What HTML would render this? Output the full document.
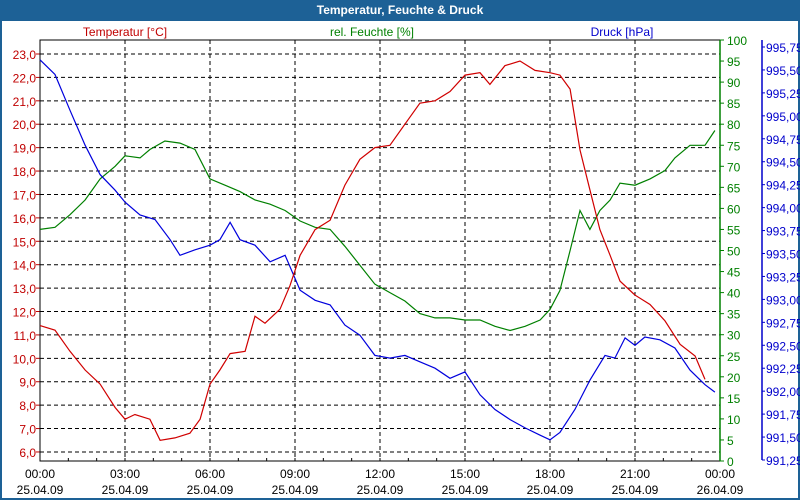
<!DOCTYPE html>
<html><head><meta charset="utf-8"><style>
body{margin:0;background:#fff;}
svg{display:block;font-family:"Liberation Sans",sans-serif;}
</style></head><body>
<svg id="c" width="800" height="500" viewBox="0 0 800 500">
<rect x="0" y="0" width="800" height="500" fill="#1d6196"/>
<rect x="2" y="21" width="796" height="477" fill="#fff"/>
<text x="400" y="14" fill="#fff" font-size="12" font-weight="bold" text-anchor="middle">Temperatur, Feuchte &amp; Druck</text>
<g id="grid"></g>
<g id="axes"></g>
<g id="series"></g>
</svg>
<script>
const tempHours=[0,0.53,1.06,1.59,2.12,2.65,3.0,3.35,3.88,4.24,4.76,5.29,5.65,6.0,6.35,6.71,7.24,7.59,7.94,8.47,8.82,9.18,9.71,10.24,10.76,11.29,11.82,12.35,12.88,13.41,13.94,14.47,15.0,15.53,15.88,16.41,16.94,17.47,18.0,18.35,18.71,19.06,19.41,19.76,20.12,20.47,21.0,21.53,22.06,22.59,23.12,23.47];
const tempValues=[11.4,11.2,10.3,9.5,8.9,7.9,7.4,7.6,7.4,6.5,6.6,6.8,7.4,8.9,9.5,10.2,10.3,11.8,11.5,12.1,13.1,14.4,15.5,15.9,17.4,18.5,19.0,19.1,20.0,20.9,21.0,21.4,22.1,22.2,21.7,22.5,22.7,22.3,22.2,22.1,21.5,18.9,17.2,15.5,14.4,13.3,12.7,12.3,11.6,10.6,10.1,9.1];
const humHours=[0,0.53,1.06,1.59,2.12,2.65,3.0,3.53,3.88,4.41,4.94,5.47,6.0,6.53,7.06,7.59,8.12,8.65,9.18,9.71,10.24,10.76,11.29,11.82,12.35,12.88,13.41,13.94,14.47,15.0,15.53,16.06,16.59,17.12,17.65,18.0,18.35,18.71,19.06,19.41,19.76,20.12,20.47,21.0,21.53,22.06,22.41,22.94,23.47,23.82];
const humValues=[55,55.5,58.5,62,67,70,72.5,72,74,76,75.5,74,67,65.5,64,62,61,59.5,57,55.5,55,51,46.5,42,40,38,35,34,34,33.5,33.5,32,31,32,33.5,36,40.5,50,59.5,55,59.5,62,66,65.5,67,69,72,75,75,78.5];
const presHours=[0,0.53,1.06,1.59,2.12,2.65,3.0,3.53,4.06,4.59,4.94,5.47,6.0,6.35,6.71,7.06,7.59,8.12,8.65,9.18,9.71,10.24,10.76,11.29,11.82,12.35,12.88,13.41,13.94,14.47,15.0,15.53,16.06,16.59,17.12,17.65,18.0,18.35,18.88,19.41,19.94,20.29,20.65,21.0,21.35,21.88,22.41,22.94,23.47,23.82];
const presValues=[995.61,995.45,995.06,994.68,994.36,994.19,994.06,993.92,993.87,993.65,993.48,993.54,993.59,993.65,993.84,993.65,993.59,993.41,993.48,993.10,992.99,992.94,992.72,992.61,992.39,992.36,992.39,992.32,992.25,992.14,992.21,991.96,991.80,991.69,991.60,991.52,991.47,991.55,991.80,992.12,992.39,992.36,992.58,992.50,992.59,992.56,992.47,992.23,992.07,991.99];
const tempTicks=["6,0","7,0","8,0","9,0","10,0","11,0","12,0","13,0","14,0","15,0","16,0","17,0","18,0","19,0","20,0","21,0","22,0","23,0"];
const humTicks=["0","5","10","15","20","25","30","35","40","45","50","55","60","65","70","75","80","85","90","95","100"];
const presTicks=["991,25","991,50","991,75","992,00","992,25","992,50","992,75","993,00","993,25","993,50","993,75","994,00","994,25","994,50","994,75","995,00","995,25","995,50","995,75"];
const timeLabels=["00:00","03:00","06:00","09:00","12:00","15:00","18:00","21:00","00:00"];
const dateLabels=["25.04.09","25.04.09","25.04.09","25.04.09","25.04.09","25.04.09","25.04.09","25.04.09","26.04.09"];

const NS="http://www.w3.org/2000/svg";
const L=40,R=720,T=40,B=461;
const xS=h=>L+h/24*(R-L);
const yT=v=>54+(23-v)*23.41;
const yH=v=>B-v*(B-T)/100;
const yP=v=>460-(v-991.25)*(413/4.5);
function mk(tag,attrs,parent,txt){const e=document.createElementNS(NS,tag);for(const k in attrs)e.setAttribute(k,attrs[k]);if(txt!==undefined)e.textContent=txt;parent.appendChild(e);return e;}
const grid=document.getElementById('grid'),axes=document.getElementById('axes'),ser=document.getElementById('series');
// horizontal grid (temperature)
tempTicks.forEach((t,i)=>{const y=yT(6+i);
 const g=mk('line',{x1:L,x2:R,y1:y,y2:y,stroke:'#000','stroke-dasharray':'4,3','stroke-width':1},grid);
 
 
 const tk=mk('line',{x1:L-4,x2:L,y1:y,y2:y,stroke:'#c00000'},axes);
 
 
 const tx=mk('text',{x:L-4,y:y+5,'text-anchor':'end','font-size':12,fill:'#c00000'},axes,t);
 
 
});
// vertical grid + x labels
timeLabels.forEach((t,i)=>{const x=xS(i*3);
 if(i>0&&i<8){const g=mk('line',{x1:x,x2:x,y1:T,y2:B,stroke:'#000','stroke-dasharray':'4,3'},grid);
 
 }
 const a=mk('text',{x:x,y:478,'text-anchor':'middle','font-size':12,fill:'#000'},axes,t);
 
 
 const d=mk('text',{x:x,y:494,'text-anchor':'middle','font-size':12,fill:'#000'},axes,dateLabels[i]);
 
 
});
for(let h=1;h<24;h++){const x=xS(h);const m=mk('line',{x1:x,x2:x,y1:B-3,y2:B,stroke:'#000'},axes);
 
 }
// frame
const fr=mk('rect',{x:L,y:T,width:R-L,height:B-T,fill:'none',stroke:'#000'},axes);


// humidity axis
const ha=mk('line',{x1:R,x2:R,y1:T,y2:B,stroke:'#008000','stroke-width':1.5},axes);


humTicks.forEach((t,i)=>{const y=yH(i*5);
 const tk=mk('line',{x1:R,x2:R+4,y1:y,y2:y,stroke:'#008000'},axes);
 
 
 const tx=mk('text',{x:R+7,y:y+5,'font-size':12,fill:'#008000'},axes,t);
 
 
});
// pressure axis
const pa=mk('line',{x1:762,x2:762,y1:T,y2:460,stroke:'#0000cc','stroke-width':1.5},axes);


presTicks.forEach((t,i)=>{const y=yP(991.25+i*0.25);
 const tk=mk('line',{x1:762,x2:765,y1:y,y2:y,stroke:'#0000cc'},axes);
 
 
 const tx=mk('text',{x:766,y:y+5,'font-size':12,fill:'#0000cc'},axes,t);
 
 
});
// axis titles
const t1=mk('text',{x:125,y:36,'text-anchor':'middle','font-size':12,fill:'#c00000'},axes,'Temperatur [°C]');


const t2=mk('text',{x:372,y:36,'text-anchor':'middle','font-size':12,fill:'#008000'},axes,'rel. Feuchte [%]');


const t3=mk('text',{x:622,y:36,'text-anchor':'middle','font-size':12,fill:'#0000cc'},axes,'Druck [hPa]');


// series
function line(hs,vs,ys,col,name){const pts=hs.map((h,i)=>xS(h).toFixed(1)+','+ys(vs[i]).toFixed(1)).join(' ');
 const p=mk('polyline',{points:pts,fill:'none',stroke:col,'stroke-width':1.2},ser);
 
 }
line(humHours,humValues,yH,'#008000','humidity-line');
line(presHours,presValues,yP,'#0000dd','pressure-line');
line(tempHours,tempValues,yT,'#d00000','temperature-line');
</script>
</body></html>
